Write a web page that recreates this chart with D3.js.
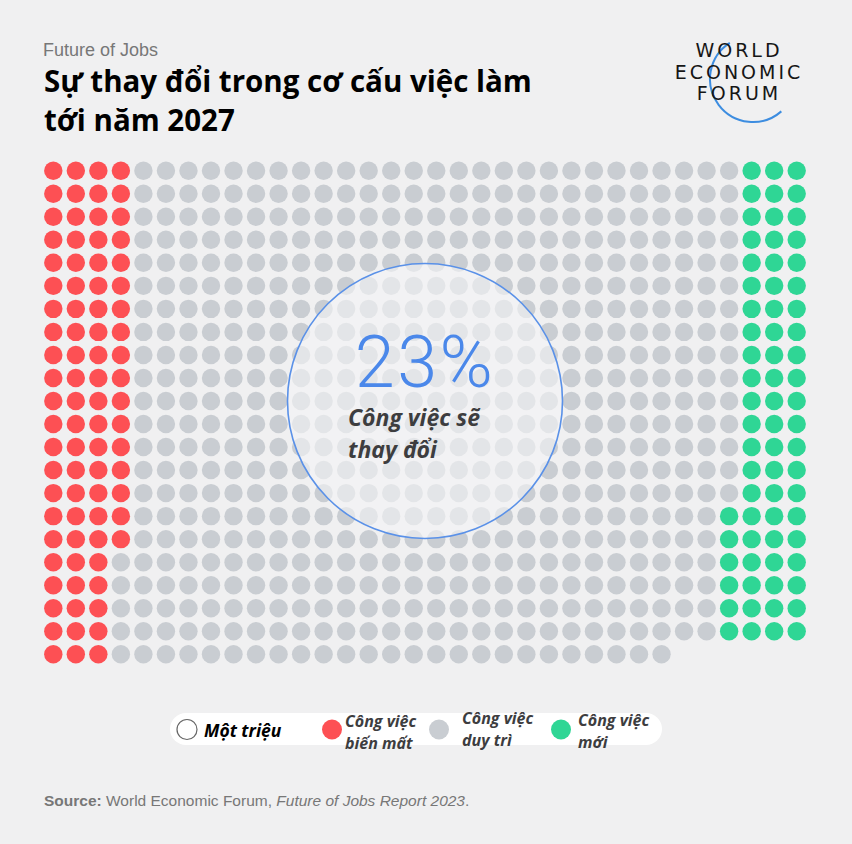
<!DOCTYPE html>
<html>
<head>
<meta charset="utf-8">
<script src="https://cdn.jsdelivr.net/npm/d3@7"></script>
<style>
  body { margin: 0; background: #f0f0f1; }
  svg { display: block; }
</style>
</head>
<body>
<div id="chart"></div>
<script>
// millions of jobs, one dot = one million
const categories = ["Công việc biến mất", "Công việc duy trì", "Công việc mới"];
const counts = [83, 590, 69];
const colors = ["#fd5054", "#c9cdd2", "#2fd695"];
const legendLines = [["Công việc", "biến mất"], ["Công việc", "duy trì"], ["Công việc", "mới"]];
const churnPct = 23;

const nCols = 34, nRows = 22, lastRowLen = 28;

const width = 852, height = 844;
const svg = d3.select("#chart").append("svg")
    .attr("width", width)
    .attr("height", height);

svg.append("rect").attr("width", width).attr("height", height).attr("fill", "#f0f0f1");

// header
svg.append("text")
    .attr("x", 43).attr("y", 56)
    .style("font-family", "Liberation Sans, Arial, sans-serif")
    .style("font-size", "18px")
    .style("fill", "#777")
    .text("Future of Jobs");

const title = svg.append("text")
    .style("font-family", "Open Sans, sans-serif")
    .style("font-weight", "bold")
    .style("font-size", "29.5px")
    .style("fill", "#000");
title.append("tspan").attr("x", 44).attr("y", 92).text("Sự thay đổi trong cơ cấu việc làm");
title.append("tspan").attr("x", 44).attr("y", 131).text("tới năm 2027");

// logo
const logo = svg.append("g");
logo.append("path")
    .attr("transform", "translate(753,79)")
    .attr("d", d3.arc()({innerRadius: 43, outerRadius: 43, startAngle: -0.57, endAngle: -3.86}))
    .attr("fill", "none")
    .attr("stroke", "#3d8de0")
    .attr("stroke-width", 2);
[["WORLD", 57], ["ECONOMIC", 78.5], ["FORUM", 100]].forEach(d => {
  logo.append("text")
      .attr("x", 739).attr("y", d[1])
      .attr("text-anchor", "middle")
      .style("font-family", "DejaVu Sans, sans-serif")
      .style("font-size", "19px")
      .style("letter-spacing", "3px")
      .style("fill", "#161616")
      .text(d[0]);
});

// dots, column-major top to bottom
const cells = [];
for (let c = 0; c < nCols; c++) {
  for (let r = 0; r < nRows; r++) {
    if (r == nRows - 1 && c >= lastRowLen) continue;
    cells.push({c: c, r: r});
  }
}
let k = 0;
counts.forEach((n, i) => {
  for (let j = 0; j < n; j++) cells[k++].cat = i;
});

const x = d3.scaleLinear().domain([0, nCols - 1]).range([53.3, 796.7]);
const y = d3.scaleLinear().domain([0, nRows - 1]).range([170.7, 654.3]);

svg.append("g").selectAll("circle")
    .data(cells)
    .enter()
    .append("circle")
    .attr("cx", d => x(d.c))
    .attr("cy", d => y(d.r))
    .attr("r", 9.2)
    .attr("fill", d => colors[d.cat]);

// centre badge
svg.append("circle")
    .attr("cx", 425).attr("cy", 401).attr("r", 137.5)
    .attr("fill", "#f4f4f6")
    .attr("fill-opacity", 0.62)
    .attr("stroke", "#5a91e8")
    .attr("stroke-width", 1.6);

svg.append("text")
    .attr("x", 425).attr("y", 387)
    .attr("text-anchor", "middle")
    .style("font-family", "Roboto, sans-serif")
    .style("font-weight", 300)
    .style("font-size", "72px")
    .style("letter-spacing", "2.5px")
    .style("fill", "#4b88ea")
    .text(churnPct + "%");

const sub = svg.append("text")
    .style("font-family", "Open Sans, sans-serif")
    .style("font-weight", "bold")
    .style("font-style", "italic")
    .style("font-size", "23px")
    .style("fill", "#3d3d3f");
sub.append("tspan").attr("x", 348).attr("y", 426).text("Công việc sẽ");
sub.append("tspan").attr("x", 348).attr("y", 458).text("thay đổi");

// legend
const legend = svg.append("g");
legend.append("rect")
    .attr("x", 170).attr("y", 713)
    .attr("width", 492).attr("height", 32)
    .attr("rx", 16)
    .attr("fill", "#fff");
legend.append("circle")
    .attr("cx", 187).attr("cy", 729.5).attr("r", 10)
    .attr("fill", "#fff")
    .attr("stroke", "#666")
    .attr("stroke-width", 1.2);
legend.append("text")
    .attr("x", 204).attr("y", 737)
    .style("font-family", "Open Sans, sans-serif")
    .style("font-weight", "bold")
    .style("font-style", "italic")
    .style("font-size", "17.5px")
    .style("fill", "#000")
    .text("Một triệu");

const legendX = [332, 439, 561];
const legendTextX = [345, 462, 578];
const legendY = [[727, 749], [724, 746], [726, 748]];
categories.forEach((cat, i) => {
  legend.append("circle")
      .attr("cx", legendX[i]).attr("cy", 729.5).attr("r", 10)
      .attr("fill", colors[i]);
  const t = legend.append("text")
      .style("font-family", "Open Sans, sans-serif")
      .style("font-weight", "bold")
      .style("font-style", "italic")
      .style("font-size", "16px")
      .style("fill", "#3d3d3f");
  legendLines[i].forEach((line, j) => {
    t.append("tspan").attr("x", legendTextX[i]).attr("y", legendY[i][j]).text(line);
  });
});

// source
const src = svg.append("text")
    .attr("x", 44).attr("y", 806)
    .style("font-family", "Liberation Sans, Arial, sans-serif")
    .style("font-size", "15.5px")
    .style("fill", "#777");
src.append("tspan").style("font-weight", "bold").text("Source:");
src.append("tspan").text(" World Economic Forum, ");
src.append("tspan").style("font-style", "italic").text("Future of Jobs Report 2023");
src.append("tspan").text(".");
</script>
</body>
</html>
